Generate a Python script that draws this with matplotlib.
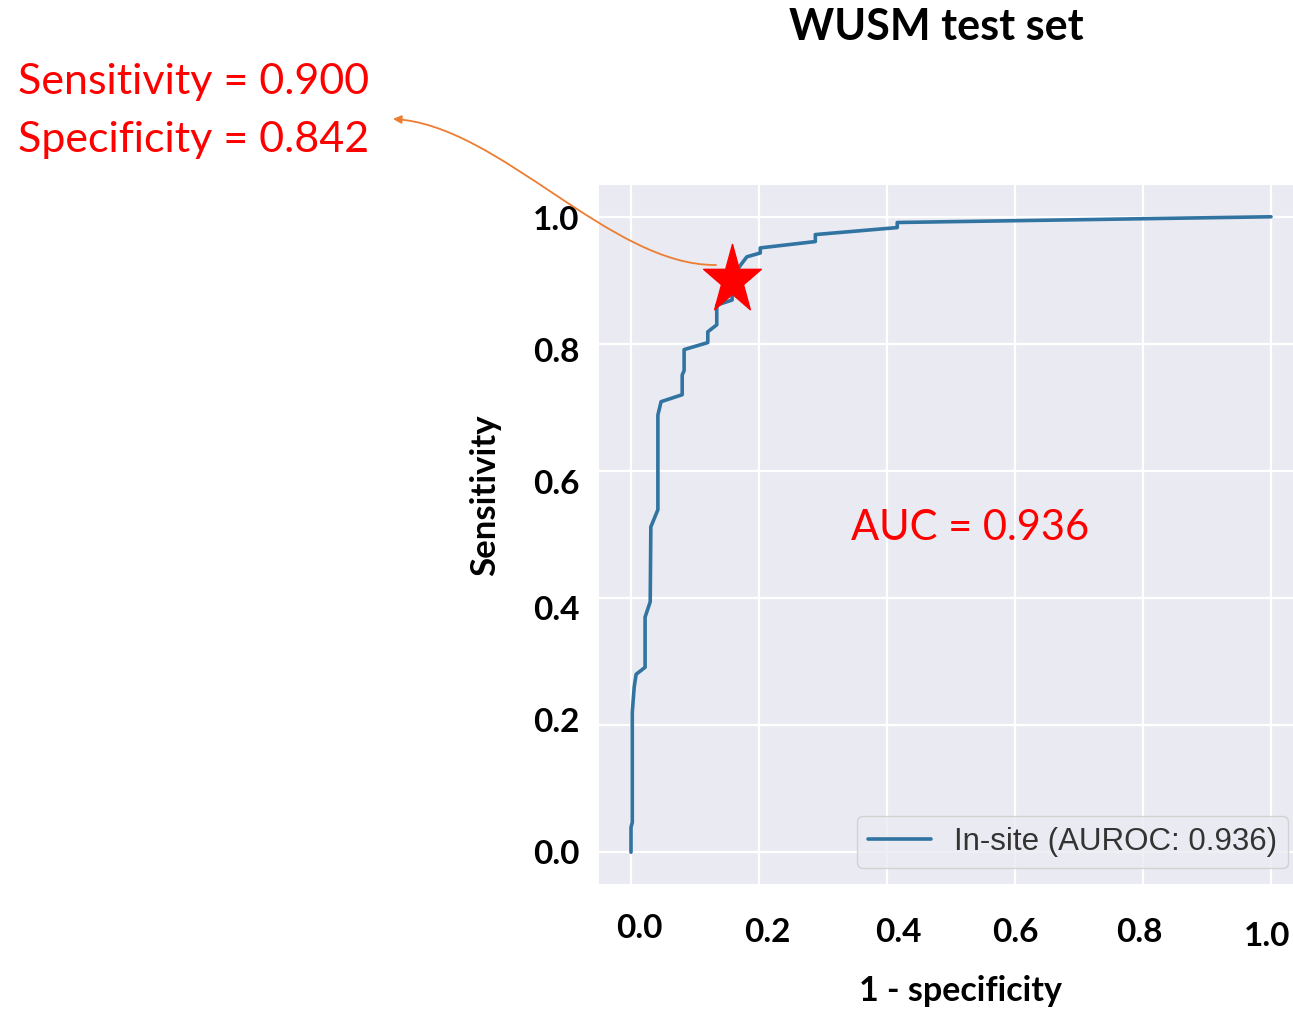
import numpy as np
import matplotlib.pyplot as plt
import seaborn as sns
from matplotlib.path import Path
from matplotlib.patches import FancyArrowPatch

# ------------------------------------------------------------------#
# Data: ROC curve of the in-site model on the WUSM test set
# ------------------------------------------------------------------#
fpr = [0.000, 0.000, 0.002, 0.002, 0.005, 0.008, 0.022, 0.022, 0.030, 0.031,
       0.042, 0.042, 0.047, 0.080, 0.080, 0.083, 0.083, 0.120, 0.120, 0.134,
       0.134, 0.158, 0.158, 0.165, 0.172, 0.181, 0.202, 0.202, 0.288, 0.288,
       0.416, 0.416, 1.000]
tpr = [0.000, 0.039, 0.047, 0.220, 0.260, 0.280, 0.291, 0.370, 0.394, 0.512,
       0.539, 0.688, 0.709, 0.720, 0.751, 0.758, 0.791, 0.802, 0.819, 0.830,
       0.861, 0.869, 0.900, 0.915, 0.925, 0.937, 0.943, 0.951, 0.961, 0.972,
       0.983, 0.991, 1.000]

auroc = 0.936
op_sensitivity = 0.900
op_specificity = 0.842

tick_values = [0.0, 0.2, 0.4, 0.6, 0.8, 1.0]

# ------------------------------------------------------------------#
# Figure layout (pixel positions on a 1293 x 1010 canvas)
# ------------------------------------------------------------------#
W, H = 1293, 1010


def fig_xy(x, y):
    """Pixel position (origin top-left) -> figure fraction."""
    return x / W, 1 - y / H


# label centres, listed in the same order as tick_values (0.0 -> 1.0)
ytick_pos = [(556, 855), (556, 722), (556, 611), (556, 484), (556, 352), (556, 221)]
xtick_pos = [(639, 928), (767, 932), (898, 932), (1015, 932), (1139, 932), (1267, 936)]

sns.set_style("darkgrid")
plt.rcParams["font.family"] = ["Lato", "DejaVu Sans"]

fig = plt.figure(figsize=(W / 100, H / 100), dpi=100)
ax = fig.add_axes([599 / W, 1 - 884 / H, (1303 - 599) / W, (884 - 185) / H])
ax.set_facecolor("#EAEAF2")
ax.grid(True, color="white", linewidth=1.6)
for s in ax.spines.values():
    s.set_visible(False)

ax.plot(fpr, tpr, color="#3274A1", linewidth=2.6,
        label=f"In-site (AUROC: {auroc:.3f})")
ax.set_xticks(tick_values)
ax.set_yticks(tick_values)
ax.tick_params(labelbottom=False, labelleft=False, length=0)
ax.set_xlim(-0.05, 1.05)
ax.set_ylim(-0.05, 1.05)

leg = ax.legend(loc="lower right", bbox_to_anchor=fig_xy(1288, 868),
                bbox_transform=fig.transFigure, borderaxespad=0,
                prop={"family": ["Liberation Sans", "DejaVu Sans"], "size": 22.5},
                handlelength=2.0, handletextpad=0.75, fancybox=True,
                framealpha=0.8, edgecolor="0.8", facecolor="#EAEAF2",
                borderpad=0.35)
for t in leg.get_texts():
    t.set_color("0.2")

# Operating point marker (slightly tall star)
star = Path.unit_regular_star(5, 0.381966)
star_verts = star.vertices * np.array([0.84, 1.0])
star_marker = Path(star_verts, star.codes)
ax.plot([1 - op_specificity], [op_sensitivity], marker=star_marker,
        markersize=52, color="red", linestyle="none", zorder=5, clip_on=False)

# Tick labels placed by hand
for v, (x, y) in zip(tick_values, ytick_pos):
    fig.text(*fig_xy(x, y), f"{v:.1f}", ha="center", va="center",
             fontsize=24, fontweight="bold", color="black")
for v, (x, y) in zip(tick_values, xtick_pos):
    fig.text(*fig_xy(x, y), f"{v:.1f}", ha="center", va="center",
             fontsize=24, fontweight="bold", color="black")

fig.text(*fig_xy(485, 495), "Sensitivity", rotation=90, ha="center", va="center",
         fontsize=25, fontweight="bold", color="black")
fig.text(*fig_xy(960, 991), "1 - specificity", ha="center", va="center",
         fontsize=24.5, fontweight="bold", color="black")
fig.text(*fig_xy(936, 27), "WUSM test set", ha="center", va="center",
         fontsize=31, fontweight="bold", color="black")

# Red annotations
fig.text(*fig_xy(18, 82), f"Sensitivity = {op_sensitivity:.3f}", ha="left",
         va="center", fontsize=31, color="red")
fig.text(*fig_xy(18, 140), f"Specificity = {op_specificity:.3f}", ha="left",
         va="center", fontsize=31, color="red")
fig.text(*fig_xy(851, 528), f"AUC = {auroc:.3f}", ha="left", va="center",
         fontsize=30, color="red")

# Curved pointer from the operating point to the annotation
pts = [fig_xy(716, 265), fig_xy(610, 266), fig_xy(500, 125), fig_xy(393, 119)]
arrow_path = Path(pts, [Path.MOVETO, Path.CURVE4, Path.CURVE4, Path.CURVE4])
arrow = FancyArrowPatch(path=arrow_path, transform=fig.transFigure,
                        arrowstyle="-|>", mutation_scale=12,
                        color="#ED7D31", linewidth=1.3, zorder=4)
fig.patches.append(arrow)

fig.savefig("out.png", dpi=100)
